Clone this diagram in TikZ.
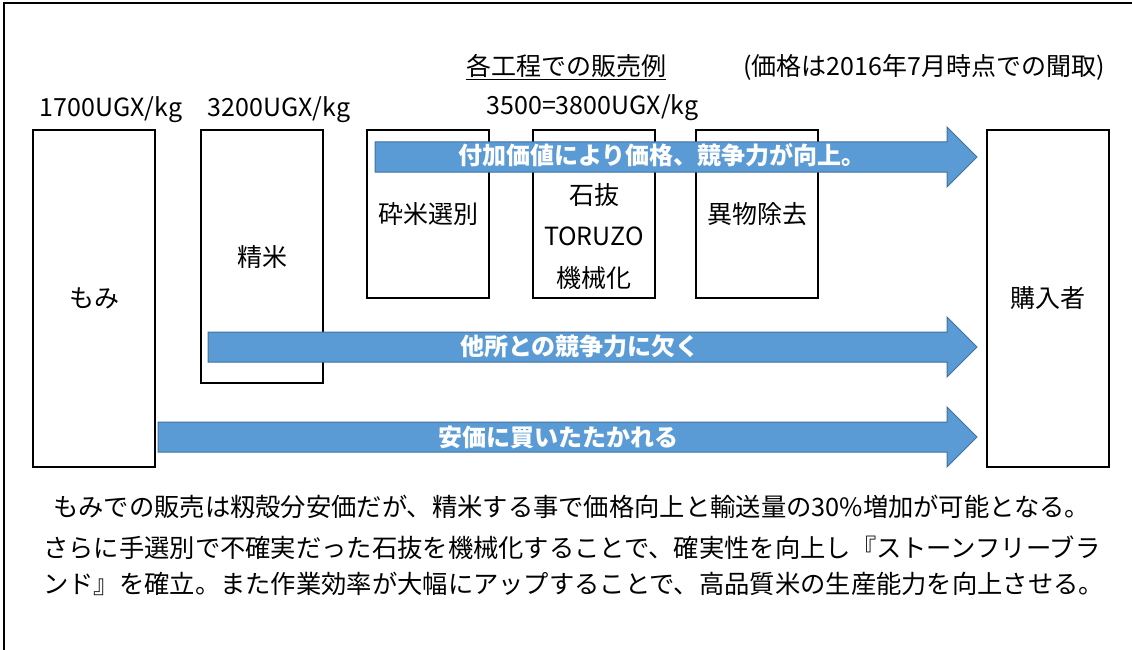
\documentclass[tikz,border=0pt]{standalone}
\usepackage{fontspec}
\setmainfont{Noto Sans CJK JP}
\definecolor{arrowfill}{HTML}{5B9BD5}
\definecolor{arrowline}{HTML}{41719C}
\begin{document}
\begin{tikzpicture}[x=1pt,y=-1pt,
  box/.style={draw=black, line width=2pt, minimum width=122pt, inner sep=0pt, font=\fontsize{25}{30}\selectfont},
  lbl/.style={font=\fontsize{25}{30}\selectfont, inner sep=0pt},
  para/.style={font=\fontsize{25.3}{30}\selectfont, inner sep=0pt, anchor=base west},
  barrow/.style={fill=arrowfill, draw=arrowline, line width=1pt},
  atext/.style={font=\fontsize{24}{28}\selectfont\bfseries, text=white, inner sep=0pt}]
\useasboundingbox (0,0) rectangle (1132,650);
% frame
\draw[line width=2pt] (4,652) -- (4,3) -- (1134,3);
% headings
\node[lbl, anchor=base] (title) at (566,75.5) {各工程での販売例};
\draw[line width=1.5pt] ([yshift=-4pt]title.base -| title.west) -- ([yshift=-4pt]title.base -| title.east);
\node[lbl, anchor=base] (note) at (924,76) {(価格は2016年7月時点での聞取)};
\node[lbl, anchor=base] (p1700) at (111,116.5) {1700UGX/kg};
\node[lbl, anchor=base] (p3200) at (279,116.5) {3200UGX/kg};
\node[lbl, anchor=base] (p3500) at (592.5,115) {3500=3800UGX/kg};
% boxes
\node[box, minimum height=337pt] (momi) at (94,298.5) {もみ};
\node[box, minimum height=253pt] (seimai) at (262,256.5) {精米};
\node[box, minimum height=168pt] (saimai) at (428,214) {砕米選別};
\node[box, minimum height=168pt] (ishi) at (594,214) {};
\node[lbl, align=center, font=\fontsize{25}{41.5}\selectfont] (ishitxt) at (594,236.5) {石抜\\TORUZO\\機械化};
\node[box, minimum height=168pt] (ibutsu) at (757,214) {異物除去};
\node[box, minimum height=337pt] (buyer) at (1047.5,298.5) {購入者};
% block arrows
\draw[barrow] (375,142) -- (947,142) -- (947,127) -- (977,157) -- (947,187) -- (947,172) -- (375,172) -- cycle;
\node[atext] (a1) at (662,155) {付加価値により価格、競争力が向上。};
\draw[barrow] (208,332) -- (947,332) -- (947,317) -- (977,347) -- (947,377) -- (947,362) -- (208,362) -- cycle;
\node[atext] (a2) at (580,346.5) {他所との競争力に欠く};
\draw[barrow] (158,422) -- (947,422) -- (947,407) -- (977,437) -- (947,467) -- (947,452) -- (158,452) -- cycle;
\node[atext] (a3) at (558,437.5) {安価に買いたたかれる};
% paragraph
\node[para] (l1) at (53,516.5) {もみでの販売は籾殻分安価だが、精米する事で価格向上と輸送量の30\%増加が可能となる。};
\node[para] (l2) at (43,557) {さらに手選別で不確実だった石抜を機械化することで、確実性を向上し『ストーンフリーブラ};
\node[para] (l3) at (43,593.5) {ンド』を確立。また作業効率が大幅にアップすることで、高品質米の生産能力を向上させる。};
\end{tikzpicture}
\end{document}
